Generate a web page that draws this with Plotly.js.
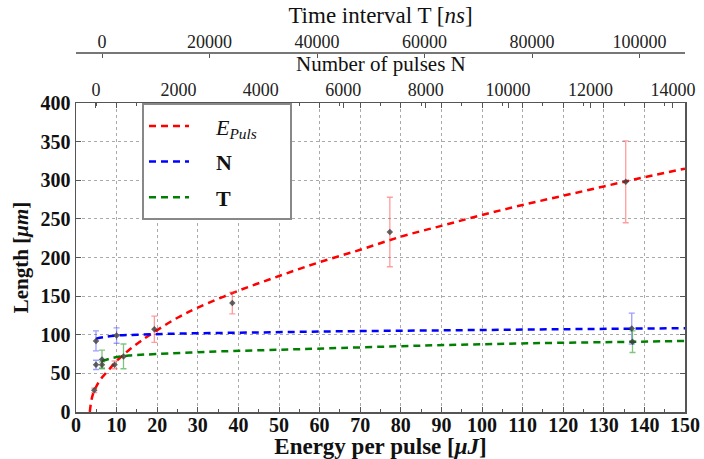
<!DOCTYPE html>
<html><head><meta charset="utf-8">
<script src="https://cdn.plot.ly/plotly-3.0.1.min.js"></script>
<style>html,body{margin:0;padding:0;background:#fff}#chart{width:704px;height:459px}</style>
</head><body><div id="chart"></div>
<script>
// Measured data: energy series (bottom axis)
const energyPts = [4.5, 9.5, 19.3, 38.5, 77.3, 135.4];
const lengthE   = [28, 61, 107, 141, 233, 298];
const errE      = [3, 5, 17, 14, 45, 53];
// Number of pulses series (N axis)
const nPts      = [0, 0, 500, 13000];
const lengthN   = [92, 61, 99, 108];
const errN      = [13, 6, 10, 20];
// Time interval series (T axis)
const tPts      = [0, 0, 4000, 98700];
const lengthT   = [68, 61, 72, 91];
const errT      = [12, 4, 16, 14];
// Fit curves
const fitEx = [3.4, 4, 5, 6, 8, 10, 13, 16, 20, 25, 30, 40, 50, 60, 70, 80, 90, 100, 110, 120, 130, 140, 150];
const fitEy = [0, 20, 33, 42, 54, 66, 80, 92, 106, 122, 135, 157, 176, 194, 210, 227, 241, 255, 268, 280, 292, 304, 315];
const fitNx = [0, 200, 500, 1000, 2000, 4000, 6000, 8000, 10000, 12000, 14300];
const fitNy = [95, 97, 99, 100, 101.5, 103, 104.5, 105.5, 106.5, 107.5, 108.5];
const fitTx = [0, 2000, 5000, 10000, 20000, 30000, 40000, 60000, 80000, 100000, 108500];
const fitTy = [66, 70, 73, 75, 78, 80, 82, 86, 89, 91, 92];

const serif = "Liberation Serif, DejaVu Serif, serif";
const markerStyle = {symbol:'diamond', size:5, color:'rgba(60,60,60,0.8)'};
function errStyle(c, arr){ return {type:'data', array:arr, visible:true, color:c, thickness:1.3, width:3}; }
const pad = '&nbsp;&nbsp;&nbsp;&nbsp;';
const tail = '&nbsp;&nbsp;&nbsp;&nbsp;&nbsp;';

const traces = [
  {x:fitEx, y:fitEy, xaxis:'x', yaxis:'y', mode:'lines', line:{color:'#ff0000', width:2.5, dash:'7px,5px', shape:'spline'},
   name:pad + '<i>E<sub>Puls</sub></i>' + tail, legendgroup:'a'},
  {x:fitNx, y:fitNy, xaxis:'x2', yaxis:'y', mode:'lines', line:{color:'#0000ff', width:2.5, dash:'7px,5px', shape:'spline'},
   name:pad + '<b>N</b>', legendgroup:'b'},
  {x:fitTx, y:fitTy, xaxis:'x3', yaxis:'y', mode:'lines', line:{color:'#008000', width:2.5, dash:'7px,5px', shape:'spline'},
   name:pad + '<b>T</b>', legendgroup:'c'},
  {x:energyPts, y:lengthE, xaxis:'x', yaxis:'y', mode:'markers', marker:markerStyle,
   error_y:errStyle('rgba(255,60,60,0.5)', errE), showlegend:false},
  {x:nPts, y:lengthN, xaxis:'x2', yaxis:'y', mode:'markers', marker:markerStyle,
   error_y:errStyle('rgba(60,60,255,0.5)', errN), showlegend:false},
  {x:tPts, y:lengthT, xaxis:'x3', yaxis:'y', mode:'markers', marker:markerStyle,
   error_y:errStyle('rgba(0,140,0,0.5)', errT), showlegend:false}
];

const axisLine = '#555';
const layout = {
  width:704, height:459,
  margin:{l:76, r:19, t:15, b:47},
  paper_bgcolor:'#fff', plot_bgcolor:'#fff',
  font:{family:serif, color:'#111'},
  showlegend:true,
  legend:{x:0.1084, y:0.778, xanchor:'left', yanchor:'top', bgcolor:'#fff', bordercolor:'#888', borderwidth:2,
          font:{family:serif, size:22, color:'#111'}, tracegroupgap:4, itemwidth:40},
  xaxis:{domain:[0,1], range:[0,150], dtick:10, tick0:0, ticks:'inside', ticklen:5, tickcolor:axisLine,
         showline:true, linecolor:axisLine, linewidth:1.5, mirror:'ticks',
         showgrid:true, gridcolor:'#aaa', griddash:'dot', gridwidth:1, zeroline:false,
         minor:{dtick:5, ticks:'inside', ticklen:3, tickcolor:axisLine, showgrid:false},
         tickfont:{family:serif, size:20, weight:'bold', color:'#111'}, ticklabelstandoff:-6,
         title:{text:'Energy per pulse [<i>μJ</i>]', font:{family:serif, size:23, weight:'bold', color:'#111'}, standoff:0},
         automargin:false},
  xaxis2:{overlaying:'x', anchor:'y', side:'top', range:[-485,14292], dtick:2000, tick0:0, tickformat:'d',
          ticks:'inside', ticklen:5, tickcolor:axisLine, showline:true, linecolor:axisLine, linewidth:1.5,
          showgrid:false, zeroline:false,
          tickfont:{family:serif, size:18, color:'#222'}, ticklabelstandoff:-2,
          automargin:false},
  xaxis3:{overlaying:'x', anchor:'free', position:0.9068, side:'top', range:[-4837,108465], dtick:20000, tick0:0, tickformat:'d',
          ticks:'inside', ticklen:4, tickcolor:axisLine, showline:true, linecolor:'#777', linewidth:1.5,
          showgrid:false, zeroline:false,
          tickfont:{family:serif, size:18, color:'#222'}, ticklabelstandoff:-3,
          title:{text:'Time interval T [<i>ns</i>]', font:{family:serif, size:23, color:'#111'}, standoff:0},
          automargin:false},
  yaxis:{domain:[0,0.7783], range:[0,400], dtick:50, ticks:'inside', ticklen:5, tickcolor:axisLine,
         showline:true, linecolor:axisLine, linewidth:1.5, mirror:'ticks',
         showgrid:true, gridcolor:'#aaa', griddash:'dot', gridwidth:1, zeroline:false,
         tickfont:{family:serif, size:20, weight:'bold', color:'#111'},
         title:{text:'Length [<i>μm</i>]', font:{family:serif, size:21, weight:'bold', color:'#111'}, standoff:6},
         automargin:false},
  annotations:[
    {text:'Number of pulses N', xref:'paper', yref:'paper', x:0.5, y:0.876, xanchor:'center', yanchor:'middle',
     showarrow:false, font:{family:serif, size:21, color:'#111'}}
  ]
};
Plotly.newPlot('chart', traces, layout, {displayModeBar:false, staticPlot:true});
</script></body></html>
